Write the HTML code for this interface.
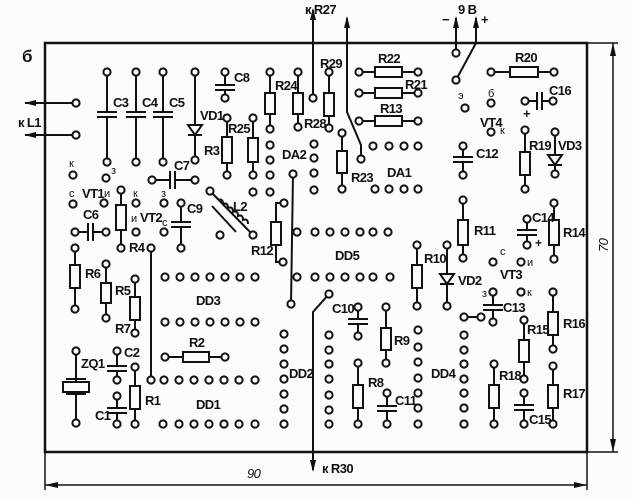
<!DOCTYPE html>
<html><head><meta charset="utf-8"><style>
html,body{margin:0;padding:0;background:#fcfcfc}
svg{display:block}
text{font-family:"Liberation Sans Narrow","Liberation Sans",sans-serif;font-weight:bold;font-size:13px;letter-spacing:-0.6px;fill:#111}
.s{font-size:11px;font-weight:normal;letter-spacing:0}
</style></head><body>
<svg id="sv" width="633" height="500" viewBox="0 0 633 500" xmlns="http://www.w3.org/2000/svg">
<g id="g" stroke="#111" stroke-width="2" fill="none">
<rect x="45" y="43" width="542" height="409" stroke-width="2.5"/>
<line x1="45" y1="452" x2="45" y2="490" stroke-width="1.5"/>
<line x1="587" y1="452" x2="587" y2="490" stroke-width="1.5"/>
<line x1="45" y1="485" x2="587" y2="485" stroke-width="1.5"/>
<line x1="587" y1="43" x2="618" y2="43" stroke-width="1.5"/>
<line x1="587" y1="452" x2="618" y2="452" stroke-width="1.5"/>
<line x1="613" y1="43" x2="613" y2="452" stroke-width="1.5"/>
</g>
<g fill="#111">
<polygon points="45,485 58,482 58,488"/>
<polygon points="587,485 574,482 574,488"/>
<polygon points="613,43 610,56 616,56"/>
<polygon points="613,452 610,439 616,439"/>
</g>
<text x="22" y="62" style="font-size:17px">б</text>
<text x="18" y="127">к L1</text>
<text x="305" y="14">к R27</text>
<text x="458" y="14">9 В</text>
<text x="442" y="24">−</text>
<text x="481" y="24">+</text>
<text x="322" y="473">к R30</text>
<text x="247" y="478" style="font-style:italic;font-weight:normal">90</text>
<text x="0" y="0" transform="translate(608,252) rotate(-90)" style="font-style:italic;font-weight:normal">70</text>
<text x="113" y="107">C3</text><text x="142" y="107">C4</text><text x="169" y="107">C5</text>
<text x="200" y="120">VD1</text><text x="234" y="82">C8</text><text x="275" y="90">R24</text>
<text x="304" y="128">R28</text><text x="320" y="68">R29</text><text x="378" y="63">R22</text>
<text x="405" y="89">R21</text><text x="380" y="113">R13</text><text x="387" y="177">DA1</text>
<text x="351" y="182">R23</text><text x="282" y="159">DA2</text><text x="228" y="133">R25</text>
<text x="204" y="155">R3</text><text x="174" y="170">C7</text>
<text x="82" y="198">VT1</text><text x="140" y="222">VT2</text><text x="83" y="219">C6</text>
<text x="187" y="213">C9</text><text x="233" y="211">L2</text><text x="251" y="255">R12</text>
<text x="129" y="252">R4</text><text x="335" y="260">DD5</text><text x="196" y="305">DD3</text>
<text x="85" y="278">R6</text><text x="115" y="295">R5</text><text x="115" y="333">R7</text>
<text x="81" y="368">ZQ1</text><text x="124" y="357">C2</text><text x="95" y="420">C1</text>
<text x="145" y="405">R1</text><text x="189" y="347">R2</text><text x="196" y="409">DD1</text>
<text x="289" y="378">DD2</text><text x="332" y="313">C10</text><text x="394" y="345">R9</text>
<text x="368" y="387">R8</text><text x="395" y="405">C11</text><text x="431" y="378">DD4</text>
<text x="424" y="263">R10</text><text x="458" y="285">VD2</text><text x="474" y="235">R11</text>
<text x="476" y="158">C12</text><text x="480" y="127">VT4</text><text x="515" y="62">R20</text>
<text x="549" y="95">C16</text><text x="529" y="150">R19</text><text x="558" y="150">VD3</text>
<text x="532" y="222">C14</text><text x="563" y="237">R14</text><text x="500" y="279">VT3</text>
<text x="503" y="312">C13</text><text x="563" y="328">R16</text><text x="527" y="334">R15</text>
<text x="499" y="380">R18</text><text x="529" y="424">C15</text><text x="563" y="398">R17</text>
<text class="s" x="69" y="167">к</text><text class="s" x="111" y="174">з</text>
<text class="s" x="69" y="197">с</text><text class="s" x="104" y="197">и</text>
<text class="s" x="133" y="197">к</text><text class="s" x="131" y="222">и</text>
<text class="s" x="161" y="197">з</text><text class="s" x="162" y="226">с</text>
<text class="s" x="458" y="99">э</text><text class="s" x="488" y="97">б</text><text class="s" x="500" y="134">к</text>
<text class="s" x="500" y="255">с</text><text class="s" x="527" y="266">и</text>
<text class="s" x="482" y="297">з</text><text class="s" x="527" y="296">к</text>
<text x="523" y="118">+</text><text x="535" y="247" style="font-size:12px">+</text>
</svg>
<script>
var g=document.getElementById('g'),NS='http://www.w3.org/2000/svg',sv=document.getElementById('sv');
function el(t,a,p){var e=document.createElementNS(NS,t);for(var k in a)e.setAttribute(k,a[k]);(p||g).appendChild(e);return e;}
function L(x1,y1,x2,y2){el('line',{x1:x1,y1:y1,x2:x2,y2:y2});}
function P(x,y){el('circle',{cx:x,cy:y,r:3.6,fill:'#fcfcfc'});}
function PL(pts){el('polyline',{points:pts});}
function arrow(x,y,d){var s=d=='u'?[x,y,x-3,y+12,x+3,y+12]:d=='d'?[x,y,x-3,y-12,x+3,y-12]:[x,y,x+12,y-3,x+12,y+3];el('polygon',{points:s.join(' '),fill:'#111',stroke:'none'});}
function RV(x,y1,y2,b1,b2){L(x,y1,x,y2);el('rect',{x:x-5,y:b1,width:10,height:b2-b1,fill:'#fcfcfc'});P(x,y1);P(x,y2);}
function RH(y,x1,x2,b1,b2){L(x1,y,x2,y);el('rect',{x:b1,y:y-5,width:b2-b1,height:10,fill:'#fcfcfc'});P(x1,y);P(x2,y);}
function CV(x,y1,y2,p){L(x,y1,x,p);L(x,p+5,x,y2);L(x-10,p,x+10,p);L(x-10,p+5,x+10,p+5);P(x,y1);P(x,y2);}
function CH(y,x1,x2,p){L(x1,y,p,y);L(p+5,y,x2,y);L(p,y-9,p,y+9);L(p+5,y-9,p+5,y+9);P(x1,y);P(x2,y);}
function DV(x,y1,y2,t){L(x,y1,x,y2);el('polygon',{points:(x-7)+','+t+' '+(x+7)+','+t+' '+x+','+(t+10),fill:'#fcfcfc'});L(x-7,t+10,x+7,t+10);P(x,y1);P(x,y2);}
function row(y,xs){xs.forEach(function(x){P(x,y);});}
function col(x,ys){ys.forEach(function(y){P(x,y);});}
L(25,103,75,103);L(25,135,75,135);arrow(24,103,'l');arrow(24,135,'l');P(76,103);P(76,135);
L(313,10,313,98);arrow(313,8,'u');P(313,98);
PL('347,18 347,112 361,145 361,159');arrow(347,16,'u');P(361,159);
L(456,18,456,53);arrow(456,16,'u');P(456,53);
PL('476,18 476,43 456,80');arrow(476,16,'u');P(456,80);
PL('329,294 313,312 313,470');arrow(313,472,'d');P(329,294);
CV(107,72,162,112);CV(136,72,162,112);CV(163,72,162,112);
DV(195,72,160,125);CV(225,72,98,85);
RV(270,72,129,93,114);RV(298,72,127,93,114);RV(329,72,128,93,116);
RH(72,359,418,375,402);RH(93,359,418,375,402);RH(121,359,418,375,402);
row(146,[373,389,404,418]);row(189,[375,389,404,418]);
RV(342,133,189,151,173);
col(270,[145,160,175,192]);col(314,[144,158,173,190]);P(253,192);
L(293,174,291,304);P(293,174);P(291,304);
RV(253,118,175,138,162);RV(227,118,175,137,163);
CH(180,152,195,170);
P(73,175);P(106,178);P(73,204);P(104,203);P(136,203);P(136,232);P(164,203);P(164,232);
RV(121,190,248,205,230);CV(181,203,248,222);CH(232,75,106,88);
L(210,191,253,235);P(210,191);P(253,235);
el('path',{d:'M218,200 q5,-2 5,4 q5,-2 5,4 q5,-2 5,4 q5,-2 5,4 q5,-2 5,4 q5,-2 5,4'});L(212,206,236,232);
PL('284,203 276,203 276,262 283,262');el('rect',{x:271,y:222,width:10,height:23,fill:'#fcfcfc'});P(284,203);P(283,262);
P(220,235);
row(232,[297,315,330,345,360,373,388]);row(277,[297,315,330,345,360,373,390]);
row(277,[165,180,195,210,225,240,255]);row(322,[165,180,195,210,225,240,255]);
RV(75,248,309,265,288);RV(106,264,318,283,303);RV(135,279,333,297,320);
L(151,248,151,380);P(151,248);
L(76,351,76,381);L(76,392,76,423);L(66,379,86,379);L(66,394,86,394);el('rect',{x:63,y:382,width:26,height:10,fill:'#fcfcfc'});P(76,351);P(76,423);
CV(117,351,380,366);CV(117,396,424,408);RV(135,367,424,386,409);
RH(357,165,225,183,209);
row(380,[151,164,179,194,209,224,239,255]);row(424,[163,179,194,209,224,239,255]);
col(284,[334,349,364,379,394,409,424]);col(329,[335,350,364,379,395,410,424]);
CV(358,307,336,319);RV(386,307,363,328,350);RV(358,363,424,385,408);CV(387,393,424,406);
col(418,[330,347,362,378,393,408,424]);col(464,[335,350,364,379,393,408,424]);
RV(417,245,306,265,288);DV(447,245,306,274);RV(463,200,258,220,245);CV(463,146,175,157);
P(465,108);P(491,103);P(491,132);
RH(72,491,554,510,538);CH(101,525,553,537);
RV(525,130,189,152,175);DV(555,132,174,155);CV(527,219,245,230);RV(554,203,259,220,245);
P(493,262);P(521,262);P(493,292);P(521,292);
L(464,317,481,317);P(464,317);CV(493,292,322,305);P(481,317);
RV(553,292,349,312,335);RV(524,320,379,340,362);RV(494,364,424,385,408);CV(524,393,424,405);RV(553,366,424,385,408);
</script>
</body></html>
